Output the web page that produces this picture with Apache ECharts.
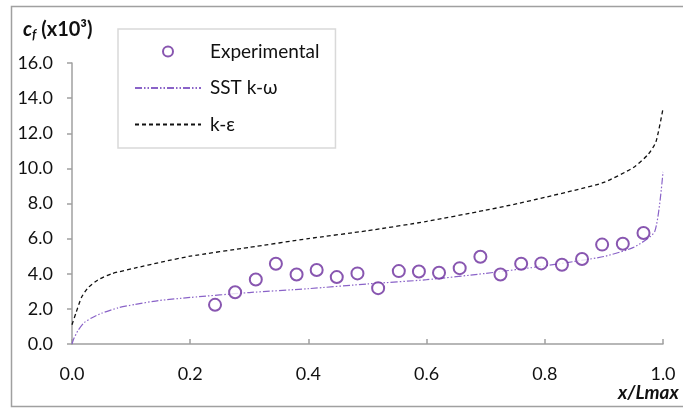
<!DOCTYPE html>
<html>
<head>
<meta charset="utf-8">
<script src="https://cdn.jsdelivr.net/npm/echarts@6/dist/echarts.min.js"></script>
<style>html,body{margin:0;padding:0;background:#fff}#c{width:683px;height:408px}</style>
</head>
<body>
<div id="c"></div>
<script>
// Experimental data
const expX = [0.242,0.276,0.311,0.345,0.380,0.414,0.448,0.483,0.518,0.553,0.587,0.621,0.656,0.691,0.725,0.760,0.794,0.829,0.863,0.897,0.932,0.967];
const expY = [2.23,2.95,3.67,4.57,3.96,4.21,3.81,4.02,3.18,4.15,4.13,4.06,4.32,4.97,3.96,4.57,4.59,4.51,4.84,5.66,5.71,6.32];
// SST k-omega
const sstX = [0.0,0.003,0.010,0.021,0.033,0.05,0.078,0.106,0.146,0.2,0.3,0.4,0.5,0.6,0.7,0.8,0.85,0.9,0.95,0.986,1.0];
const sstY = [0.0,0.3,0.76,1.23,1.48,1.75,2.06,2.25,2.47,2.65,2.93,3.15,3.42,3.66,4.02,4.45,4.7,4.98,5.5,6.4,9.8];
// k-epsilon
const keX = [0.0,0.007,0.016,0.027,0.044,0.067,0.106,0.151,0.2,0.3,0.4,0.5,0.6,0.7,0.741,0.8,0.85,0.9,0.95,0.975,0.988,1.0];
const keY = [1.1,1.8,2.65,3.2,3.65,4.0,4.32,4.66,5.0,5.5,6.0,6.45,6.98,7.62,7.9,8.35,8.75,9.2,10.05,10.8,11.5,13.4];
const seriesNames = ['Experimental','SST k-ω','k-ε'];

const zip = (a,b) => a.map((v,i)=>[v,b[i]]);
const FONT = 'Lato';
const HIDDEN = {color:'rgba(0,0,0,0)',borderColor:'rgba(0,0,0,0)',borderWidth:0};
const chart = echarts.init(document.getElementById('c'));
chart.setOption({
  animation:false,
  textStyle:{fontFamily:FONT},
  grid:{left:72,top:63,right:20,bottom:64,containLabel:false},
  xAxis:{type:'value',min:0,max:1,interval:0.2,
    axisLine:{lineStyle:{color:'#a0a0a0',width:1.5}},
    axisTick:{inside:true,length:5,lineStyle:{color:'#a0a0a0',width:1.5}},
    axisLabel:{formatter:v=>v.toFixed(1),color:'#111',fontSize:18,fontFamily:FONT,margin:21},
    splitLine:{show:false}},
  yAxis:{type:'value',min:0,max:16,interval:2,
    axisLine:{show:true,lineStyle:{color:'#a0a0a0',width:1.5}},
    axisTick:{show:true,length:5,lineStyle:{color:'#a0a0a0',width:1.5}},
    axisLabel:{formatter:v=>v.toFixed(1),color:'#111',fontSize:18,fontFamily:FONT,margin:19},
    splitLine:{show:false}},
  legend:{orient:'vertical',left:118,top:29,
    padding:[13,16,14,16],itemGap:17.5,itemWidth:66,itemHeight:10,
    borderColor:'#d9d9d9',borderWidth:1.5,backgroundColor:'#fff',
    textStyle:{fontSize:19,color:'#111',fontFamily:FONT,lineHeight:14,padding:[0,0,0,4]},
    data:seriesNames},
  graphic:[
    {type:'rect',shape:{x:11.5,y:6.5,width:680,height:400},style:{fill:'none',stroke:'#a0a0a0',lineWidth:1.5},silent:true,z:-10},
    {type:'text',left:23,top:20,style:{
      text:'{c|c}{f|f}{t| (x10³)}',
      rich:{c:{fontSize:20,fontWeight:'bold',fontStyle:'italic',fontFamily:FONT,fill:'#111'},
            f:{fontSize:13,fontWeight:'bold',fontStyle:'italic',fontFamily:FONT,fill:'#111',padding:[10,0,0,0]},
            t:{fontSize:20,fontWeight:'bold',fontFamily:FONT,fill:'#111'}}}},
    {type:'text',x:618,y:393,style:{text:'x/Lmax',fontSize:19,fontWeight:'bold',fontStyle:'italic',fontFamily:FONT,fill:'#111',verticalAlign:'middle'}}
  ],
  series:[
    {name:seriesNames[0],type:'scatter',data:zip(expX,expY),symbol:'emptyCircle',symbolSize:12,
      itemStyle:{color:'#6a2c9c',borderColor:'#6a2c9c',borderWidth:2.2},z:5},
    {name:seriesNames[1],type:'line',data:zip(sstX,sstY),symbol:'none',smooth:0.2,
      lineStyle:{color:'#8a63c8',width:1.2,type:[7,2,1.5,2,1.5,2]},itemStyle:HIDDEN,z:3},
    {name:seriesNames[2],type:'line',data:zip(keX,keY),symbol:'none',smooth:0.2,
      lineStyle:{color:'#111',width:1.3,type:[4,3]},itemStyle:HIDDEN,z:3}
  ]
});
</script>
</body>
</html>
